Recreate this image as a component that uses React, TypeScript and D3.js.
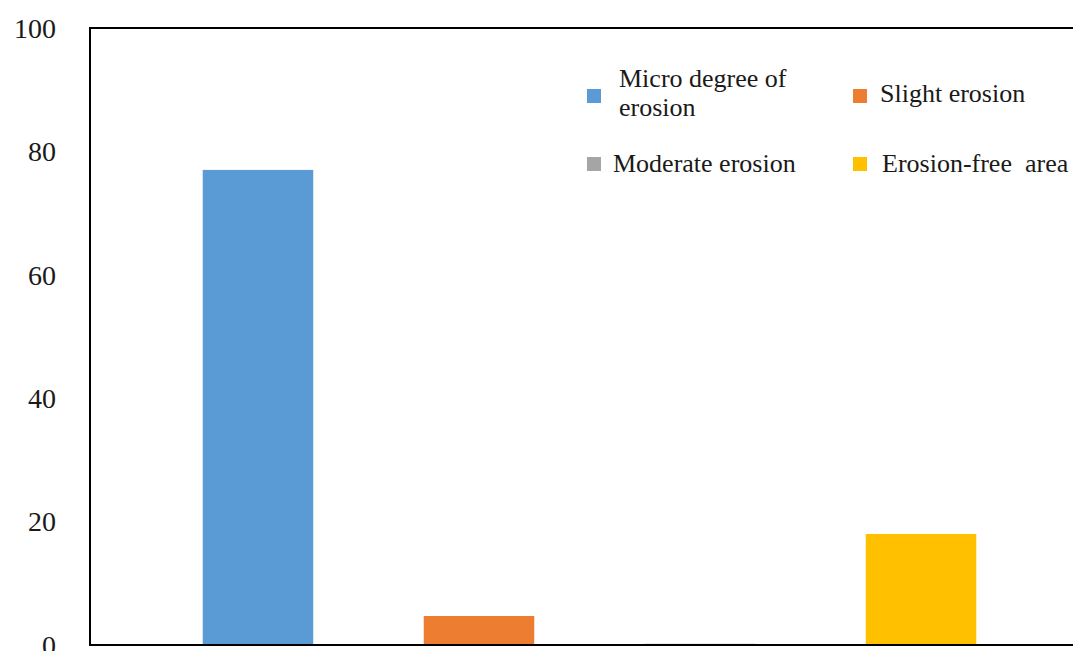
import React from "react";
import * as d3 from "d3";

const seriesNames = ["Micro degree of erosion", "Slight erosion", "Moderate erosion", "Erosion-free  area"];
const seriesValues = [77.0, 4.7, 0.2, 18.0];
const seriesColors = ["#5b9bd5", "#ed7d31", "#a5a5a5", "#ffc000"];
const yTicks = [0, 20, 40, 60, 80, 100];

const W = 1073;
const H = 651;
const plot = { left: 90, right: 1089, top: 28, bottom: 645 };

export default function App() {
  const x = d3
    .scaleBand<string>()
    .domain(seriesNames)
    .range([plot.left, plot.right])
    .paddingInner(0.5)
    .paddingOuter(0.51);
  const y = d3.scaleLinear().domain([0, 100]).range([plot.bottom, plot.top]);
  const font = "'Liberation Serif', 'Times New Roman', serif";

  const legend = [
    { i: 0, sx: 587, sy: 89, tx: 619, lines: ["Micro degree of", "erosion"], ty: [78, 107] },
    { i: 1, sx: 853, sy: 89, tx: 880, lines: ["Slight erosion"], ty: [93] },
    { i: 2, sx: 587, sy: 157, tx: 613, lines: ["Moderate erosion"], ty: [163] },
    { i: 3, sx: 853, sy: 157, tx: 882, lines: ["Erosion-free  area"], ty: [163] },
  ];

  return (
    <svg
      width={W}
      height={H}
      style={{ position: "absolute", left: 0, top: 0, background: "#fff" }}
      fontFamily={font}
    >
      {seriesNames.map((s, i) => (
        <rect
          key={s}
          x={x(s)}
          y={y(seriesValues[i])}
          width={x.bandwidth()}
          height={y(0) - y(seriesValues[i])}
          fill={seriesColors[i]}
        />
      ))}
      <rect
        x={plot.left}
        y={plot.top}
        width={plot.right - plot.left}
        height={plot.bottom - plot.top}
        fill="none"
        stroke="#000"
        strokeWidth={2}
      />
      {yTicks.map((t) => (
        <text
          key={t}
          x={56}
          y={y(t)}
          dy="0.35em"
          textAnchor="end"
          fontSize={28}
          fill="#1a1a1a"
        >
          {t}
        </text>
      ))}
      {legend.map((l) => (
        <g key={l.i}>
          <rect x={l.sx} y={l.sy} width={14} height={14} fill={seriesColors[l.i]} />
          {l.lines.map((ln, k) => (
            <text
              key={k}
              x={l.tx}
              y={l.ty[k]}
              dy="0.35em"
              fontSize={26}
              fill="#1a1a1a"
              style={{ whiteSpace: "pre" }}
            >
              {ln}
            </text>
          ))}
        </g>
      ))}
    </svg>
  );
}
